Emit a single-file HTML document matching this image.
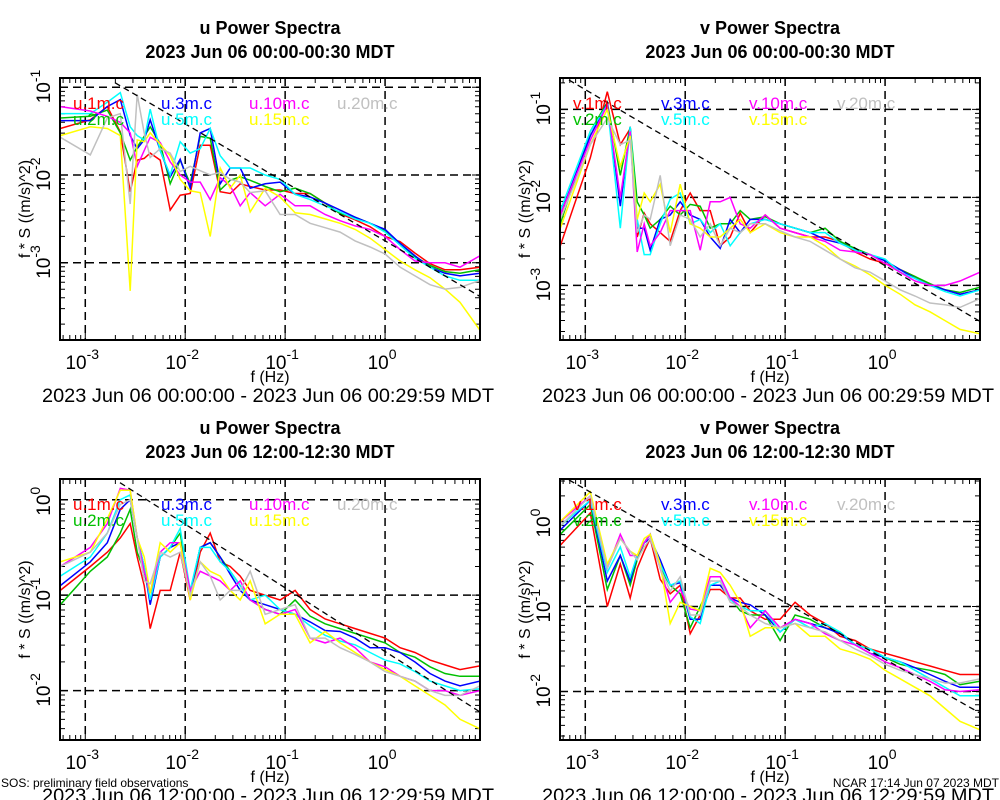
<!DOCTYPE html>
<html><head><meta charset="utf-8"><style>
html,body{margin:0;padding:0;background:#fff;}
svg{display:block;font-family:"Liberation Sans",sans-serif;}
</style></head><body>
<svg id="chart" width="1000" height="800" viewBox="0 0 1000 800" xmlns="http://www.w3.org/2000/svg">
<rect x="0" y="0" width="1000" height="800" fill="#fff"/>
<text x="1" y="787" font-size="12">SOS: preliminary field observations</text>
<text x="999" y="787" font-size="12" text-anchor="end">NCAR 17:14 Jun 07 2023 MDT</text>
</svg>
<script>
// shared frequency grid (log10 Hz)
const freqLog = [-3.25,-2.95,-2.78,-2.65,-2.55,-2.48,-2.41,-2.35,-2.25,-2.15,-2.05,-1.95,-1.85,-1.75,-1.65,-1.55,-1.45,-1.35,-1.2,-1.05,-0.9,-0.75,-0.6,-0.45,-0.3,-0.15,0,0.15,0.3,0.45,0.6,0.75,0.95];
const xTickExps = [-3,-2,-1,0];
const seriesNames = ["1m","2m","3m","5m","10m","15m","20m"];
const seriesColors = ["#ff0000","#00c000","#0000ff","#00ffff","#ff00ff","#ffff00","#c0c0c0"];

// Panel A: u, night (log10 of f*S)
const uNightRed = [-1.47,-1.37,-1.22,-1.51,-2.19,-1.83,-1.81,-1.75,-1.83,-2.40,-2.23,-2.21,-1.66,-1.66,-2.19,-2.21,-2.10,-2.13,-2.17,-2.17,-2.21,-2.21,-2.32,-2.44,-2.51,-2.59,-2.70,-2.76,-2.89,-3.01,-3.08,-3.08,-3.05];
const uNightGreen = [-1.35,-1.33,-1.26,-1.52,-1.83,-1.68,-1.56,-1.45,-1.64,-2.10,-1.83,-2.10,-1.56,-1.58,-2.17,-2.06,-2.02,-2.06,-2.13,-2.19,-2.15,-2.21,-2.32,-2.44,-2.48,-2.55,-2.63,-2.78,-2.93,-3.03,-3.10,-3.12,-3.08];
const uNightBlue = [-1.38,-1.38,-1.22,-1.14,-1.55,-1.70,-1.60,-1.37,-1.72,-2.02,-1.82,-2.15,-1.52,-1.47,-2.10,-1.92,-1.92,-2.15,-2.10,-2.08,-2.22,-2.25,-2.32,-2.40,-2.48,-2.55,-2.62,-2.78,-2.92,-3.05,-3.12,-3.15,-3.12];
const uNightCyan = [-1.30,-1.30,-1.17,-1.06,-1.45,-1.55,-1.60,-1.25,-1.72,-2.00,-1.62,-1.75,-1.70,-1.47,-1.78,-1.92,-1.92,-1.92,-2.00,-2.05,-2.22,-2.28,-2.35,-2.42,-2.50,-2.55,-2.65,-2.80,-2.95,-3.05,-3.15,-3.20,-3.20];
const uNightMagenta = [-1.22,-1.27,-1.33,-1.40,-1.52,-1.90,-1.72,-1.57,-1.63,-1.85,-2.00,-2.08,-2.08,-2.28,-2.03,-2.12,-2.35,-2.20,-2.35,-2.22,-2.35,-2.35,-2.45,-2.52,-2.58,-2.62,-2.70,-2.85,-2.98,-3.00,-3.00,-3.05,-2.92];
const uNightYellow = [-1.55,-1.45,-1.47,-1.55,-3.32,-1.60,-1.62,-1.52,-1.65,-1.78,-2.05,-2.18,-2.20,-2.70,-1.92,-2.15,-2.00,-2.42,-2.15,-2.25,-2.43,-2.45,-2.50,-2.55,-2.62,-2.72,-2.85,-2.98,-3.08,-3.17,-3.30,-3.45,-3.77];
const uNightGray = [-1.57,-1.77,-1.35,-1.30,-2.33,-1.08,-1.52,-1.80,-1.70,-1.75,-1.96,-1.90,-1.95,-2.00,-1.97,-2.05,-2.08,-2.20,-2.18,-2.45,-2.45,-2.55,-2.60,-2.65,-2.75,-2.82,-2.90,-3.05,-3.15,-3.25,-3.30,-3.28,-3.20];

// Panel B: v, night
const vNightRed = [-2.55,-1.55,-0.80,-1.40,-1.22,-2.45,-2.18,-2.30,-2.40,-2.50,-2.15,-1.95,-2.15,-2.15,-2.55,-2.45,-2.18,-2.40,-2.20,-2.35,-2.40,-2.45,-2.45,-2.50,-2.62,-2.70,-2.75,-2.82,-2.90,-3.00,-3.05,-3.10,-3.05];
const vNightGreen = [-2.30,-1.25,-0.92,-1.75,-1.20,-2.05,-2.20,-2.35,-2.25,-2.10,-2.20,-2.08,-2.10,-2.35,-2.30,-2.30,-2.15,-2.25,-2.22,-2.30,-2.35,-2.40,-2.35,-2.50,-2.58,-2.65,-2.72,-2.82,-2.90,-2.98,-3.05,-3.08,-3.02];
const vNightBlue = [-2.20,-1.30,-0.93,-2.10,-1.20,-2.35,-2.35,-2.60,-2.25,-2.20,-2.05,-2.20,-2.25,-2.45,-2.58,-2.25,-2.40,-2.25,-2.25,-2.30,-2.35,-2.40,-2.48,-2.52,-2.60,-2.65,-2.72,-2.82,-2.92,-3.00,-3.05,-3.10,-3.05];
const vNightCyan = [-2.15,-1.25,-0.95,-2.35,-1.20,-2.25,-2.65,-2.65,-2.30,-2.02,-1.95,-2.30,-2.25,-2.40,-2.30,-2.55,-2.40,-2.30,-2.25,-2.30,-2.35,-2.40,-2.40,-2.52,-2.60,-2.65,-2.70,-2.85,-2.92,-3.00,-3.07,-3.12,-3.05];
const vNightMagenta = [-2.20,-1.35,-0.95,-2.00,-1.25,-2.62,-2.30,-2.55,-2.40,-2.15,-2.15,-2.15,-2.60,-2.05,-2.05,-2.00,-2.30,-2.35,-2.20,-2.35,-2.40,-2.45,-2.50,-2.60,-2.62,-2.65,-2.75,-2.85,-2.95,-3.00,-3.00,-2.95,-2.85];
const vNightYellow = [-2.35,-1.40,-1.00,-1.65,-1.30,-2.25,-1.95,-2.05,-1.85,-2.40,-1.85,-2.30,-2.35,-2.45,-2.45,-2.35,-2.25,-2.40,-2.30,-2.40,-2.45,-2.45,-2.55,-2.70,-2.78,-2.88,-3.00,-3.10,-3.22,-3.30,-3.40,-3.50,-3.55];
const vNightGray = [-2.25,-1.40,-1.10,-1.40,-1.35,-2.40,-2.20,-2.25,-1.75,-2.55,-2.20,-2.25,-2.45,-2.30,-2.55,-2.35,-2.40,-2.30,-2.30,-2.38,-2.45,-2.50,-2.60,-2.70,-2.80,-2.85,-2.95,-3.05,-3.12,-3.20,-3.22,-3.25,-3.15];

// Panel C: u, day
const uDayRed = [-0.95,-0.70,-0.55,-0.40,-0.25,-0.60,-0.90,-1.35,-0.95,-0.95,-0.55,-1.05,-0.55,-0.35,-0.65,-0.70,-0.80,-0.95,-1.00,-1.05,-0.95,-1.15,-1.25,-1.30,-1.35,-1.40,-1.45,-1.55,-1.60,-1.68,-1.73,-1.78,-1.74];
const uDayGreen = [-1.10,-0.75,-0.60,-0.35,-0.10,-0.55,-0.75,-1.05,-0.60,-0.50,-0.35,-0.98,-0.50,-0.45,-0.60,-0.75,-0.90,-1.05,-1.15,-1.20,-1.05,-1.22,-1.30,-1.35,-1.40,-1.45,-1.50,-1.60,-1.65,-1.75,-1.82,-1.85,-1.85];
const uDayBlue = [-0.90,-0.65,-0.45,-0.10,0.00,-0.40,-0.70,-1.10,-0.60,-0.50,-0.45,-0.98,-0.50,-0.45,-0.60,-0.78,-0.95,-1.05,-1.10,-1.15,-1.20,-1.28,-1.37,-1.38,-1.45,-1.55,-1.55,-1.60,-1.70,-1.82,-1.90,-1.95,-1.90];
const uDayCyan = [-0.80,-0.60,-0.35,0.00,0.05,-0.40,-0.70,-1.05,-0.60,-0.50,-0.30,-0.95,-0.50,-0.50,-0.65,-0.75,-0.90,-1.05,-1.00,-1.15,-1.20,-1.32,-1.42,-1.48,-1.52,-1.60,-1.68,-1.72,-1.80,-1.90,-1.95,-2.00,-1.98];
const uDayMagenta = [-0.70,-0.50,-0.25,0.12,0.10,-0.40,-0.75,-0.98,-0.55,-0.45,-0.45,-0.95,-0.75,-0.80,-0.85,-0.95,-0.85,-1.05,-1.15,-1.20,-1.15,-1.45,-1.50,-1.45,-1.55,-1.70,-1.75,-1.85,-1.90,-2.00,-2.00,-2.05,-2.00];
const uDayYellow = [-0.65,-0.55,-0.20,0.10,0.10,-0.40,-0.60,-0.98,-0.45,-0.55,-0.45,-1.05,-0.65,-0.75,-0.80,-0.95,-1.05,-0.85,-1.30,-1.20,-1.20,-1.50,-1.38,-1.50,-1.60,-1.70,-1.78,-1.85,-1.95,-2.05,-2.15,-2.30,-2.40];
const uDayGray = [-0.70,-0.55,-0.35,-0.05,0.00,-0.40,-0.85,-0.88,-0.55,-0.60,-0.55,-1.00,-0.65,-0.80,-1.05,-0.95,-0.95,-0.75,-1.20,-1.15,-1.10,-1.45,-1.45,-1.55,-1.62,-1.70,-1.80,-1.85,-1.90,-2.00,-2.05,-2.05,-1.95];

// Panel D: v, day
const vDayRed = [-0.28,0.10,-1.00,-0.50,-0.90,-0.55,-0.35,-0.20,-0.68,-0.85,-0.75,-1.32,-1.10,-0.80,-0.80,-0.90,-0.90,-1.05,-1.15,-1.15,-0.95,-1.10,-1.20,-1.35,-1.40,-1.50,-1.55,-1.60,-1.65,-1.70,-1.75,-1.80,-1.80];
const vDayGreen = [-0.15,0.20,-0.80,-0.40,-0.75,-0.45,-0.25,-0.15,-0.55,-0.75,-0.85,-1.25,-1.00,-0.75,-0.75,-0.90,-1.05,-1.10,-1.10,-1.40,-1.10,-1.15,-1.25,-1.30,-1.45,-1.50,-1.60,-1.68,-1.72,-1.75,-1.80,-1.92,-1.88];
const vDayBlue = [-0.10,0.25,-0.70,-0.40,-0.70,-0.40,-0.25,-0.20,-0.45,-0.75,-0.72,-1.15,-1.15,-0.75,-0.75,-0.90,-0.95,-0.98,-1.10,-1.30,-1.15,-1.20,-1.25,-1.32,-1.45,-1.55,-1.60,-1.65,-1.72,-1.80,-1.88,-1.95,-1.95];
const vDayCyan = [-0.05,0.25,-0.60,-0.30,-0.65,-0.40,-0.25,-0.15,-0.50,-0.75,-0.70,-1.12,-1.20,-0.75,-0.70,-0.92,-1.00,-1.05,-1.05,-1.30,-1.15,-1.25,-1.20,-1.30,-1.45,-1.50,-1.60,-1.65,-1.75,-1.85,-1.95,-2.05,-2.05];
const vDayMagenta = [0.00,0.30,-0.55,-0.15,-0.40,-0.40,-0.25,-0.15,-0.55,-0.95,-0.80,-1.03,-1.05,-0.65,-0.65,-0.90,-1.00,-1.25,-1.05,-1.25,-1.15,-1.20,-1.32,-1.40,-1.45,-1.55,-1.65,-1.72,-1.80,-1.88,-1.98,-2.00,-1.98];
const vDayYellow = [0.00,0.35,-0.50,-0.20,-0.35,-0.40,-0.20,-0.15,-0.50,-1.20,-0.95,-1.00,-1.05,-0.55,-0.60,-0.75,-0.95,-1.35,-1.25,-1.25,-1.20,-1.35,-1.35,-1.50,-1.55,-1.62,-1.75,-1.85,-1.95,-2.05,-2.20,-2.35,-2.45];
const vDayGray = [-0.05,0.30,-0.55,-0.20,-0.35,-0.45,-0.30,-0.20,-0.55,-0.82,-0.65,-1.10,-1.10,-0.70,-0.70,-0.95,-1.00,-1.10,-1.20,-1.25,-1.20,-1.25,-1.30,-1.40,-1.50,-1.58,-1.68,-1.75,-1.80,-1.85,-1.90,-1.90,-1.85];

const panels = [
 {id:"u-night", comp:"u", left:60, top:78, bottom:340, yMin:-3.88, yMax:-0.894, yTicks:[-3,-2,-1], refA:-2.75, refStart:-2.703,
  title:"2023 Jun 06 00:00-00:30 MDT", range:"2023 Jun 06 00:00:00 - 2023 Jun 06 00:29:59 MDT", tY:0,
  series:[uNightRed,uNightGreen,uNightBlue,uNightCyan,uNightMagenta,uNightYellow,uNightGray]},
 {id:"v-night", comp:"v", left:560, top:78, bottom:340, yMin:-3.62, yMax:-0.644, yTicks:[-3,-2,-1], refA:-2.776, refStart:-3.163,
  title:"2023 Jun 06 00:00-00:30 MDT", range:"2023 Jun 06 00:00:00 - 2023 Jun 06 00:29:59 MDT", tY:0,
  series:[vNightRed,vNightGreen,vNightBlue,vNightCyan,vNightMagenta,vNightYellow,vNightGray]},
 {id:"u-day", comp:"u", left:60, top:479, bottom:740, yMin:-2.517, yMax:0.217, yTicks:[-2,-1,0], refA:-1.59, refStart:-2.653,
  title:"2023 Jun 06 12:00-12:30 MDT", range:"2023 Jun 06 12:00:00 - 2023 Jun 06 12:29:59 MDT", tY:400,
  series:[uDayRed,uDayGreen,uDayBlue,uDayCyan,uDayMagenta,uDayYellow,uDayGray]},
 {id:"v-day", comp:"v", left:560, top:479, bottom:740, yMin:-2.57, yMax:0.5, yTicks:[-2,-1,0], refA:-1.62, refStart:-3.163,
  title:"2023 Jun 06 12:00-12:30 MDT", range:"2023 Jun 06 12:00:00 - 2023 Jun 06 12:29:59 MDT", tY:400,
  series:[vDayRed,vDayGreen,vDayBlue,vDayCyan,vDayMagenta,vDayYellow,vDayGray]}
];

const NS = "http://www.w3.org/2000/svg";
const svg = document.getElementById("chart");
function mk(tag, attrs, parent, txt){
  const e = document.createElementNS(NS, tag);
  for (const k in attrs) e.setAttribute(k, attrs[k]);
  if (txt !== undefined) e.textContent = txt;
  (parent||svg).appendChild(e);
  return e;
}
const X_MIN = -3.253, X_MAX = 0.95, W = 420;

panels.forEach(p => {
  const g = mk("g", {});
  
  
  const xS = v => p.left + (v - X_MIN) / (X_MAX - X_MIN) * W;
  const yS = v => p.bottom - (v - p.yMin) / (p.yMax - p.yMin) * (p.bottom - p.top);
  const cx = p.left + 210;

  const t1 = mk("text", {x:cx, y:34+p.tY, "font-size":18, "font-weight":"bold", "text-anchor":"middle"}, g, p.comp + " Power Spectra");
  
  
  const t2 = mk("text", {x:cx, y:58+p.tY, "font-size":18, "font-weight":"bold", "text-anchor":"middle"}, g, p.title);
  
  

  const cp = mk("clipPath", {id:"clip-"+p.id}, g);
  mk("rect", {x:p.left, y:p.top, width:W, height:p.bottom-p.top}, cp);

  xTickExps.forEach(e => {
    const gl = mk("line", {x1:xS(e), x2:xS(e), y1:p.top, y2:p.bottom, stroke:"#000", "stroke-width":1.5, "stroke-dasharray":"8,5"}, g);
    
    
  });
  p.yTicks.forEach(e => {
    const gl = mk("line", {x1:p.left, x2:p.left+W, y1:yS(e), y2:yS(e), stroke:"#000", "stroke-width":1.5, "stroke-dasharray":"8,5"}, g);
    
    
  });

  let tk = "";
  for (let d = -4; d <= 1; d++) for (let m = 1; m <= 9; m++) {
    const lv = d + Math.log10(m);
    if (lv > p.yMin && lv < p.yMax) { const y = yS(lv); const L = m===1?8:5;
      tk += `M${p.left},${y}h${L}M${p.left+W},${y}h${-L}`; }
    if (lv > X_MIN && lv < X_MAX) { const x = xS(lv); const L = m===1?8:5;
      tk += `M${x},${p.bottom}v${-L}M${x},${p.top}v${L}`; }
  }
  const tp = mk("path", {d:tk, stroke:"#000", "stroke-width":1, fill:"none"}, g);
  
  

  p.series.forEach((vals, i) => {
    const d = vals.map((v, k) => (k ? "L" : "M") + xS(freqLog[k]).toFixed(1) + "," + yS(v).toFixed(1)).join("");
    const pl = mk("path", {d, stroke:seriesColors[i], "stroke-width":1.5, fill:"none", "clip-path":`url(#clip-${p.id})`}, g);
    
    
  });

  const rl = mk("line", {x1:xS(p.refStart), y1:yS(p.refA - 2/3*p.refStart), x2:xS(X_MAX), y2:yS(p.refA - 2/3*X_MAX),
    stroke:"#000", "stroke-width":1.3, "stroke-dasharray":"6,4", "clip-path":`url(#clip-${p.id})`}, g);
  
  

  const lx = [13, 101, 189, 277];
  seriesNames.forEach((n, i) => {
    const col = Math.floor(i/2), row = i%2;
    const lt = mk("text", {x:p.left+lx[col], y:p.top+31+row*16, "font-size":17, fill:seriesColors[i]}, g, p.comp + "." + n + ".c");
    
    
  });

  const fr = mk("rect", {x:p.left, y:p.top, width:W, height:p.bottom-p.top, fill:"none", stroke:"#000", "stroke-width":2}, g);
  
  

  xTickExps.forEach(e => {
    const t = mk("text", {x:xS(e)-3, y:p.bottom+29, "font-size":19, "text-anchor":"middle"}, g);
    
    
    mk("tspan", {}, t, "10");
    mk("tspan", {dy:-10, "font-size":14}, t, String(e));
  });
  p.yTicks.forEach(e => {
    const t = mk("text", {transform:`translate(${p.left-10},${yS(e)+16}) rotate(-90)`, "font-size":19}, g);
    
    
    mk("tspan", {}, t, "10");
    mk("tspan", {dy:-10, "font-size":14}, t, String(e));
  });
  const yl = mk("text", {transform:`translate(${p.left-30},${(p.top+p.bottom)/2}) rotate(-90)`, "font-size":16, "text-anchor":"middle"}, g, "f * S ((m/s)^2)");
  
  
  const xl = mk("text", {x:cx, y:p.bottom+42, "font-size":16, "text-anchor":"middle"}, g, "f (Hz)");
  
  
  const rt = mk("text", {x:cx-2, y:p.bottom+62, "font-size":19, "text-anchor":"middle", textLength:452, lengthAdjust:"spacingAndGlyphs"}, g, p.range);
  
  
});
</script>
</body></html>
